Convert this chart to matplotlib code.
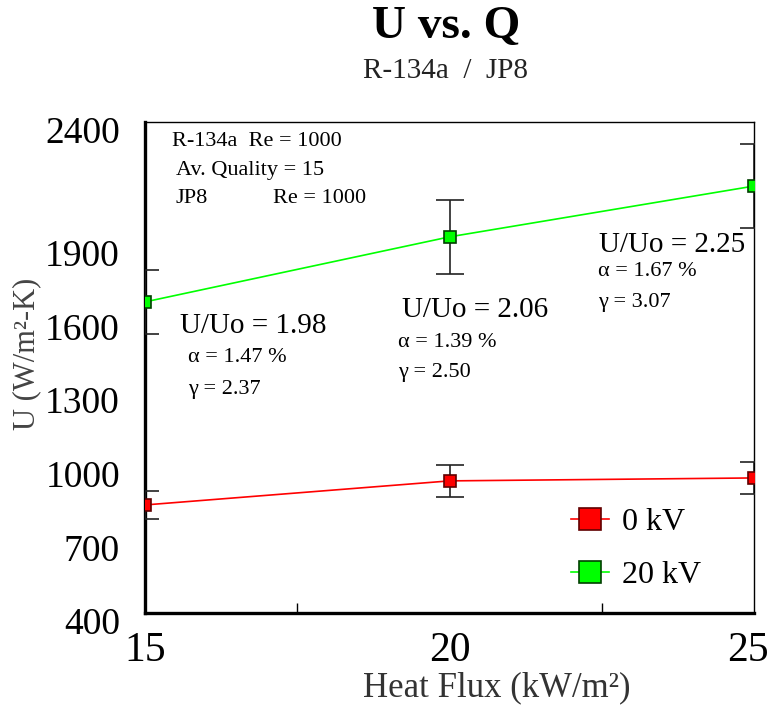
import matplotlib
matplotlib.use("Agg")
import matplotlib.pyplot as plt
from matplotlib.lines import Line2D
from matplotlib.ticker import FixedLocator
import matplotlib.transforms as mtransforms

plt.rcParams['font.family'] = ['Liberation Serif', 'DejaVu Serif']

# heat flux (kW/m2) and overall coefficient U (W/m2-K)
heat_flux = [15, 20, 25]
u_0kv = [840, 938, 950]
u_0kv_err = [57, 65, 65]
u_20kv = [1667, 1932, 2139]
u_20kv_err = [132, 152, 171]

ratio_labels = ["U/Uo = 1.98", "U/Uo = 2.06", "U/Uo = 2.25"]
alpha_labels = ["\u03b1 = 1.47 %", "\u03b1 = 1.39 %", "\u03b1 = 1.67 %"]
gamma_labels = ["\u03b3 = 2.37", "\u03b3 = 2.50", "\u03b3 = 3.07"]
y_ticks = [400, 700, 1000, 1300, 1600, 1900, 2400]
x_ticks = [15, 20, 25]

fig = plt.figure(figsize=(7.7, 7.07), dpi=100)
ax = fig.add_axes([0.1883, 0.133, 0.791, 0.6945])

red = '#ff0000'
green = '#00ff00'

ax.errorbar(heat_flux, u_0kv, yerr=u_0kv_err, color=red, lw=1.2,
            marker='s', ms=9, mfc=red, mec='#600000', mew=1.2,
            ecolor='#222222', elinewidth=1.2, capsize=10, capthick=1.2, zorder=3)
ax.errorbar(heat_flux, u_20kv, yerr=u_20kv_err, color=green, lw=1.2,
            marker='s', ms=9, mfc=green, mec='#004000', mew=1.2,
            ecolor='#222222', elinewidth=1.2, capsize=10, capthick=1.2, zorder=3)

ax.set_xlim(15, 25)
ax.set_ylim(400, 2400)
ax.set_xticks(x_ticks)
ax.set_yticks(y_ticks)
ax.xaxis.set_minor_locator(FixedLocator([17.5, 22.5]))
ax.tick_params(axis='both', which='major', length=0)
ax.tick_params(axis='y', labelsize=27, pad=18)
ax.tick_params(axis='x', labelsize=30, pad=13)
ax.tick_params(axis='x', which='minor', direction='in', length=7, width=1)
for lbl in ax.get_yticklabels():
    lbl.set_transform(lbl.get_transform() +
                      mtransforms.ScaledTranslation(0, -8 / 100, fig.dpi_scale_trans))
# keep the last x label inside the figure edge
last = ax.get_xticklabels()[-1]
last.set_transform(last.get_transform() +
                   mtransforms.ScaledTranslation(-6 / 100, 0, fig.dpi_scale_trans))

for side in ['left', 'bottom']:
    ax.spines[side].set_linewidth(2.4)
for side in ['right', 'top']:
    ax.spines[side].set_linewidth(1.0)

# per-point annotations
ratio_pos = [(0.0575, 0.5845), (0.422, 0.617), (0.7455, 0.7495)]
alpha_pos = [(0.0706, 0.521), (0.4154, 0.550), (0.744, 0.6945)]
gamma_pos = [(0.0706, 0.456), (0.4154, 0.489), (0.744, 0.633)]
for i in range(3):
    ax.text(*ratio_pos[i], ratio_labels[i], transform=ax.transAxes,
            fontsize=21, va='center', ha='left')
    ax.text(*alpha_pos[i], alpha_labels[i], transform=ax.transAxes,
            fontsize=16, va='center', ha='left')
    ax.text(*gamma_pos[i], gamma_labels[i], transform=ax.transAxes,
            fontsize=16, va='center', ha='left')

ax.text(0.0443, 0.961, "R-134a  Re = 1000", transform=ax.transAxes,
        fontsize=16, va='center')
ax.text(0.0509, 0.902, "Av. Quality = 15", transform=ax.transAxes,
        fontsize=16, va='center')
ax.text(0.0509, 0.845, "JP8", transform=ax.transAxes, fontsize=16, va='center')
ax.text(0.210, 0.845, "Re = 1000", transform=ax.transAxes, fontsize=16, va='center')

handles = [
    Line2D([], [], color=red, lw=1.2, marker='s', ms=16, mfc=red, mec='#600000', mew=1.2),
    Line2D([], [], color=green, lw=1.2, marker='s', ms=16, mfc=green, mec='#004000', mew=1.2),
]
ax.legend(handles, ["0 kV", "20 kV"], loc='center left',
          bbox_to_anchor=(0.652, 0.13), frameon=False, fontsize=23,
          handlelength=1.2, handletextpad=0.4, labelspacing=0.75)

fig.text(0.579, 0.962, "U vs. Q", ha='center', va='center',
         fontsize=34, fontweight='bold')
fig.text(0.578, 0.900, "R-134a  /  JP8", ha='center', va='center',
         fontsize=21, color='#222222')
fig.text(0.645, 0.027, "Heat Flux (kW/m\u00b2)", ha='center', va='center',
         fontsize=25, color='#333333')
fig.text(0.035, 0.50, "U (W/m\u00b2-K)", ha='center', va='center',
         rotation=90, fontsize=22, color='#444444')

fig.savefig("out.png", dpi=100)
